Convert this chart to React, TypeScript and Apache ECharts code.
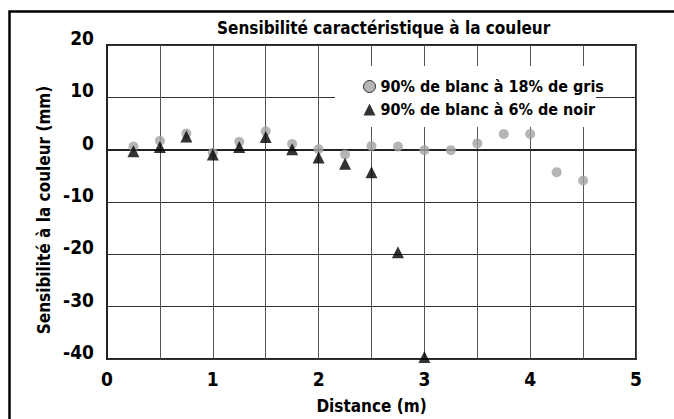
import React, { useEffect, useRef } from "react";
import * as echarts from "echarts";

const titleText = "Sensibilité caractéristique à la couleur";
const xAxisName = "Distance (m)";
const yAxisName = "Sensibilité à la couleur (mm)";
const seriesNames = ["90% de blanc à 18% de gris", "90% de blanc à 6% de noir"];

const grayX = [0.25, 0.5, 0.75, 1.0, 1.25, 1.5, 1.75, 2.0, 2.25, 2.5, 2.75, 3.0, 3.25, 3.5, 3.75, 4.0, 4.25, 4.5];
const grayY = [0.6, 1.7, 3.1, -0.6, 1.5, 3.5, 1.1, 0.1, -0.9, 0.7, 0.6, -0.1, -0.1, 1.2, 3.0, 3.0, -4.3, -5.9];

const blackX = [0.25, 0.5, 0.75, 1.0, 1.25, 1.5, 1.75, 2.0, 2.25, 2.5, 2.75, 3.0];
const blackY = [-0.3, 0.5, 2.5, -0.9, 0.5, 2.4, 0.1, -1.5, -2.7, -4.3, -19.6, -39.6];

const FONT = "'Liberation Sans Narrow', 'DejaVu Sans Condensed', 'Roboto Condensed', 'Arial Narrow', sans-serif";

export default function App() {
  const ref = useRef<HTMLDivElement>(null);
  useEffect(() => {
    if (!ref.current) return;
    const chart = echarts.init(ref.current, undefined, { renderer: "svg" });
    chart.setOption({
      animation: false,
      backgroundColor: "#ffffff",
      textStyle: { fontFamily: FONT },
      title: {
        text: titleText,
        left: 212,
        top: 14,
        textStyle: { fontFamily: FONT, fontWeight: "bold", fontSize: 17, color: "#000" },
      },
      grid: {
        left: 107,
        top: 45,
        width: 529,
        height: 314,
        show: true,
        borderColor: "#222",
        borderWidth: 2,
        backgroundColor: "transparent",
        containLabel: false,
      },
      legend: {
        orient: "vertical",
        left: 358,
        top: 72,
        itemWidth: 12,
        itemHeight: 12,
        itemGap: 4,
        z: 20,
        textStyle: { fontFamily: FONT, fontWeight: "bold", fontSize: 16, color: "#000", lineHeight: 19 },
        data: [
          { name: seriesNames[0], icon: "circle", itemStyle: { color: "#a3a3a3", borderColor: "#000", borderWidth: 1 } },
          { name: seriesNames[1], icon: "triangle", itemStyle: { color: "#000" } },
        ],
      },
      graphic: [
        {
          type: "rect",
          z: 10,
          silent: true,
          shape: { x: 335, y: 66, width: 261, height: 61 },
          style: { fill: "#ffffff" },
        },
        {
          type: "rect",
          z: 30,
          silent: true,
          shape: { x: 9.5, y: 11.5, width: 700, height: 450 },
          style: { fill: "none", stroke: "#000", lineWidth: 2.5 },
        },
      ],
      xAxis: {
        type: "value",
        min: 0,
        max: 5,
        interval: 0.5,
        name: xAxisName,
        nameLocation: "middle",
        nameGap: 38,
        nameTextStyle: { fontFamily: FONT, fontWeight: "bold", fontSize: 17, color: "#000" },
        axisLine: { show: true, lineStyle: { color: "#222", width: 2 } },
        axisTick: { show: false },
        axisLabel: {
          margin: 10,
          fontFamily: FONT,
          fontWeight: "bold",
          fontSize: 19,
          color: "#000",
          formatter: (v: number) => (Math.abs(v - Math.round(v)) < 1e-9 ? String(Math.round(v)) : ""),
        },
        splitLine: { show: true, lineStyle: { color: "#555", width: 1 } },
      },
      yAxis: {
        type: "value",
        min: -40,
        max: 20,
        interval: 10,
        name: yAxisName,
        nameLocation: "middle",
        nameGap: 55,
        nameRotate: 90,
        nameTextStyle: { fontFamily: FONT, fontWeight: "bold", fontSize: 17, color: "#000", padding: [0, 16, 0, 0] },
        axisLine: { show: true, lineStyle: { color: "#222", width: 2 } },
        axisTick: { show: false },
        axisLabel: {
          margin: 13,
          fontFamily: FONT,
          fontWeight: "bold",
          fontSize: 19,
          color: "#000",
          formatter: "{a|{value}}",
          rich: {
            a: {
              fontFamily: FONT,
              fontWeight: "bold",
              fontSize: 19,
              color: "#000",
              padding: [0, 0, 14, 0],
            },
          },
        },
        splitLine: { show: true, lineStyle: { color: "#333", width: 1 } },
      },
      series: [
        {
          name: seriesNames[0],
          type: "scatter",
          symbol: "circle",
          symbolSize: 10,
          itemStyle: { color: "#a3a3a3" },
          z: 3,
          data: grayX.map((x, i) => [x, grayY[i]]),
        },
        {
          name: seriesNames[1],
          type: "scatter",
          symbol: "triangle",
          symbolSize: 12,
          itemStyle: { color: "#000" },
          z: 4,
          clip: false,
          data: blackX.map((x, i) => [x, blackY[i]]),
        },
      ],
    });
    return () => chart.dispose();
  }, []);
  return <div ref={ref} style={{ position: "fixed", left: 0, top: 0, width: 674, height: 419 }} />;
}
